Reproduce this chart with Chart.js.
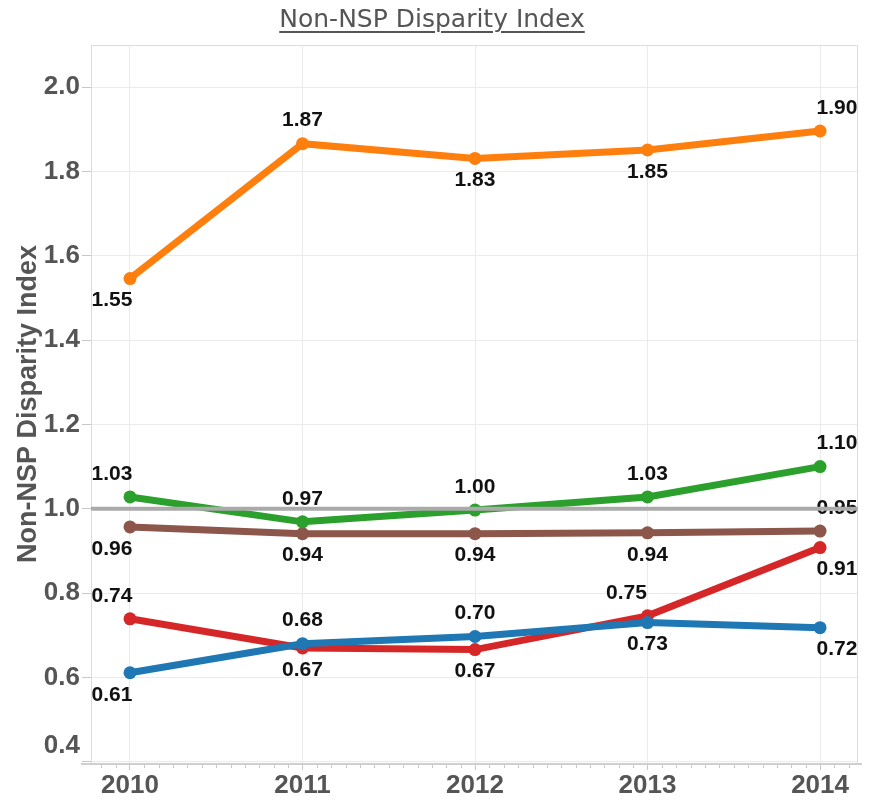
<!DOCTYPE html>
<html>
<head>
<meta charset="utf-8">
<title>Non-NSP Disparity Index</title>
<script src="https://cdn.jsdelivr.net/npm/chart.js@4.4.1/dist/chart.umd.min.js"></script>
<style>
    html, body { margin: 0; padding: 0; background: #fff; }
    #wrap { position: relative; width: 872px; height: 803px; }
    #chart { position: absolute; left: 0; top: 0; }
    #title {
        position: absolute; top: 4px; left: 0; width: 864px; text-align: center;
        font-family: 'DejaVu Sans', sans-serif;
        font-size: 25px; color: #555;
    }
    #title span { text-decoration: underline; text-underline-offset: 4px; text-decoration-thickness: 2px; }
</style>
</head>
<body>
<div id="wrap">
    <canvas id="chart" width="872" height="803"></canvas>
    <div id="title"><span>Non-NSP Disparity Index</span></div>
</div>
<script>
(() => {
    'use strict';

    // data
    const years = [2010, 2011, 2012, 2013, 2014];
    const yTickValues = [0.4, 0.6, 0.8, 1.0, 1.2, 1.4, 1.6, 1.8, 2.0];
    const referenceValue = 1.0;

    const orangeValues = [1.546, 1.866, 1.831, 1.851, 1.896];
    const greenValues  = [1.028, 0.969, 0.997, 1.028, 1.100];
    const brownValues  = [0.957, 0.941, 0.941, 0.943, 0.947];
    const blueValues   = [0.611, 0.680, 0.697, 0.730, 0.718];
    const redValues    = [0.739, 0.670, 0.666, 0.746, 0.908];

    // where each value label sits: a = above, b = below, al = above, nudged left
    const orangeLabelPos = ['b', 'a', 'b', 'b', 'a'];
    const greenLabelPos  = ['a', 'a', 'a', 'a', 'a'];
    const brownLabelPos  = ['b', 'b', 'b', 'b', 'a'];
    const blueLabelPos   = ['b', 'a', 'a', 'b', 'b'];
    const redLabelPos    = ['a', 'b', 'b', 'al', 'b'];

    const axisGray = '#555555';
    const gridGray = '#ebebeb';
    const edgeShift = [-18, 0, 0, 0, 17];

    function toPoints(values) {
        return years.map((yr, i) => ({ x: yr, y: values[i] }));
    }

    function makeSeries(label, values, color, labelPos) {
        return {
            label: label,
            data: toPoints(values),
            labelPos: labelPos,
            borderColor: color,
            backgroundColor: color,
            pointBackgroundColor: color,
            pointBorderColor: color,
            pointBorderWidth: 0,
            borderWidth: 7,
            pointRadius: 6.5,
            pointHoverRadius: 6.5,
            tension: 0
        };
    }

    const framePlugin = {
        id: 'frame',
        beforeDatasetsDraw(chart) {
            const { ctx, chartArea: a, scales: { x } } = chart;
            ctx.save();
            ctx.strokeStyle = '#dcdcdc';
            ctx.lineWidth = 1;
            ctx.beginPath();
            ctx.moveTo(a.left + 0.5, a.bottom);
            ctx.lineTo(a.left + 0.5, a.top + 0.5);
            ctx.lineTo(a.right - 0.5, a.top + 0.5);
            ctx.lineTo(a.right - 0.5, a.bottom);
            ctx.stroke();
            // axis line
            ctx.strokeStyle = '#cfcfcf';
            ctx.lineWidth = 2;
            ctx.beginPath();
            ctx.moveTo(a.left - 10, a.bottom + 1);
            ctx.lineTo(a.right + 4, a.bottom + 1);
            ctx.stroke();
            // monthly minor ticks
            ctx.strokeStyle = '#c8c8c8';
            ctx.lineWidth = 1;
            ctx.beginPath();
            for (let m = Math.ceil(x.min * 12); m <= Math.floor(x.max * 12); m++) {
                if (m % 12 === 0) continue;
                const px = Math.round(x.getPixelForValue(m / 12)) + 0.5;
                ctx.moveTo(px, a.bottom + 2);
                ctx.lineTo(px, a.bottom + 5);
            }
            ctx.stroke();
            ctx.restore();
        }
    };

    const valueLabelPlugin = {
        id: 'valueLabels',
        afterDatasetsDraw(chart) {
            const { ctx, chartArea: a, scales: { y } } = chart;
            ctx.save();
            ctx.font = 'bold 21px "Liberation Sans", Arial, sans-serif';
            ctx.fillStyle = '#111';
            ctx.textAlign = 'center';
            ctx.textBaseline = 'middle';
            chart.data.datasets.forEach((ds, di) => {
                const meta = chart.getDatasetMeta(di);
                meta.data.forEach((pt, i) => {
                    const pos = ds.labelPos[i];
                    let dx = edgeShift[i];
                    const dy = pos.charAt(0) === 'a' ? -23 : 22;
                    if (pos === 'al') dx -= 21;
                    ctx.fillText(ds.data[i].y.toFixed(2), pt.x + dx, pt.y + dy);
                });
            });
            // reference line sits on top of everything
            const ry = y.getPixelForValue(referenceValue);
            ctx.strokeStyle = '#aaaaaa';
            ctx.lineWidth = 4;
            ctx.beginPath();
            ctx.moveTo(a.left, ry);
            ctx.lineTo(a.right, ry);
            ctx.stroke();
            ctx.restore();
        }
    };

    const tickFont = (size) => ({ family: '"Liberation Sans", Arial, sans-serif', size: size, weight: 'bold' });

    new Chart(document.getElementById('chart').getContext('2d'), {
        type: 'line',
        data: {
            datasets: [
                makeSeries('Orange', orangeValues, '#ff7f0e', orangeLabelPos),
                makeSeries('Green', greenValues, '#2ca02c', greenLabelPos),
                makeSeries('Brown', brownValues, '#8c564b', brownLabelPos),
                makeSeries('Blue', blueValues, '#1f77b4', blueLabelPos),
                makeSeries('Red', redValues, '#d62728', redLabelPos)
            ]
        },
        options: {
            responsive: false,
            animation: false,
            layout: { padding: { top: 45, right: 14, bottom: 0, left: 0 } },
            plugins: { legend: { display: false }, tooltip: { enabled: false }, title: { display: false } },
            scales: {
                x: {
                    type: 'linear',
                    min: 2009.774,
                    max: 2014.22,
                    afterBuildTicks: (scale) => { scale.ticks = years.map(v => ({ value: v })); },
                    afterFit: (scale) => { scale.height = 40; },
                    grid: { color: gridGray, tickColor: '#c8c8c8', tickLength: 7, drawTicks: true },
                    border: { display: false },
                    ticks: {
                        color: axisGray,
                        font: tickFont(26),
                        padding: 0,
                        maxRotation: 0,
                        autoSkip: false,
                        callback: (v) => String(v)
                    }
                },
                y: {
                    type: 'linear',
                    min: 0.397,
                    max: 2.1,
                    afterBuildTicks: (scale) => { scale.ticks = yTickValues.map(v => ({ value: v })); },
                    afterFit: (scale) => { scale.width = 91; },
                    grid: { color: gridGray, tickColor: '#c8c8c8', tickLength: 9, drawTicks: true },
                    border: { display: false },
                    title: {
                        display: true,
                        text: 'Non-NSP Disparity Index',
                        color: axisGray,
                        font: tickFont(27),
                        padding: { top: 12, bottom: 0 }
                    },
                    ticks: {
                        color: axisGray,
                        font: tickFont(26),
                        padding: 2,
                        autoSkip: false,
                        callback: (v) => (Math.abs(v - 0.4) < 1e-6 ? ['0.4', ''] : v.toFixed(1))
                    }
                }
            }
        },
        plugins: [framePlugin, valueLabelPlugin]
    });
})();
</script>
</body>
</html>
